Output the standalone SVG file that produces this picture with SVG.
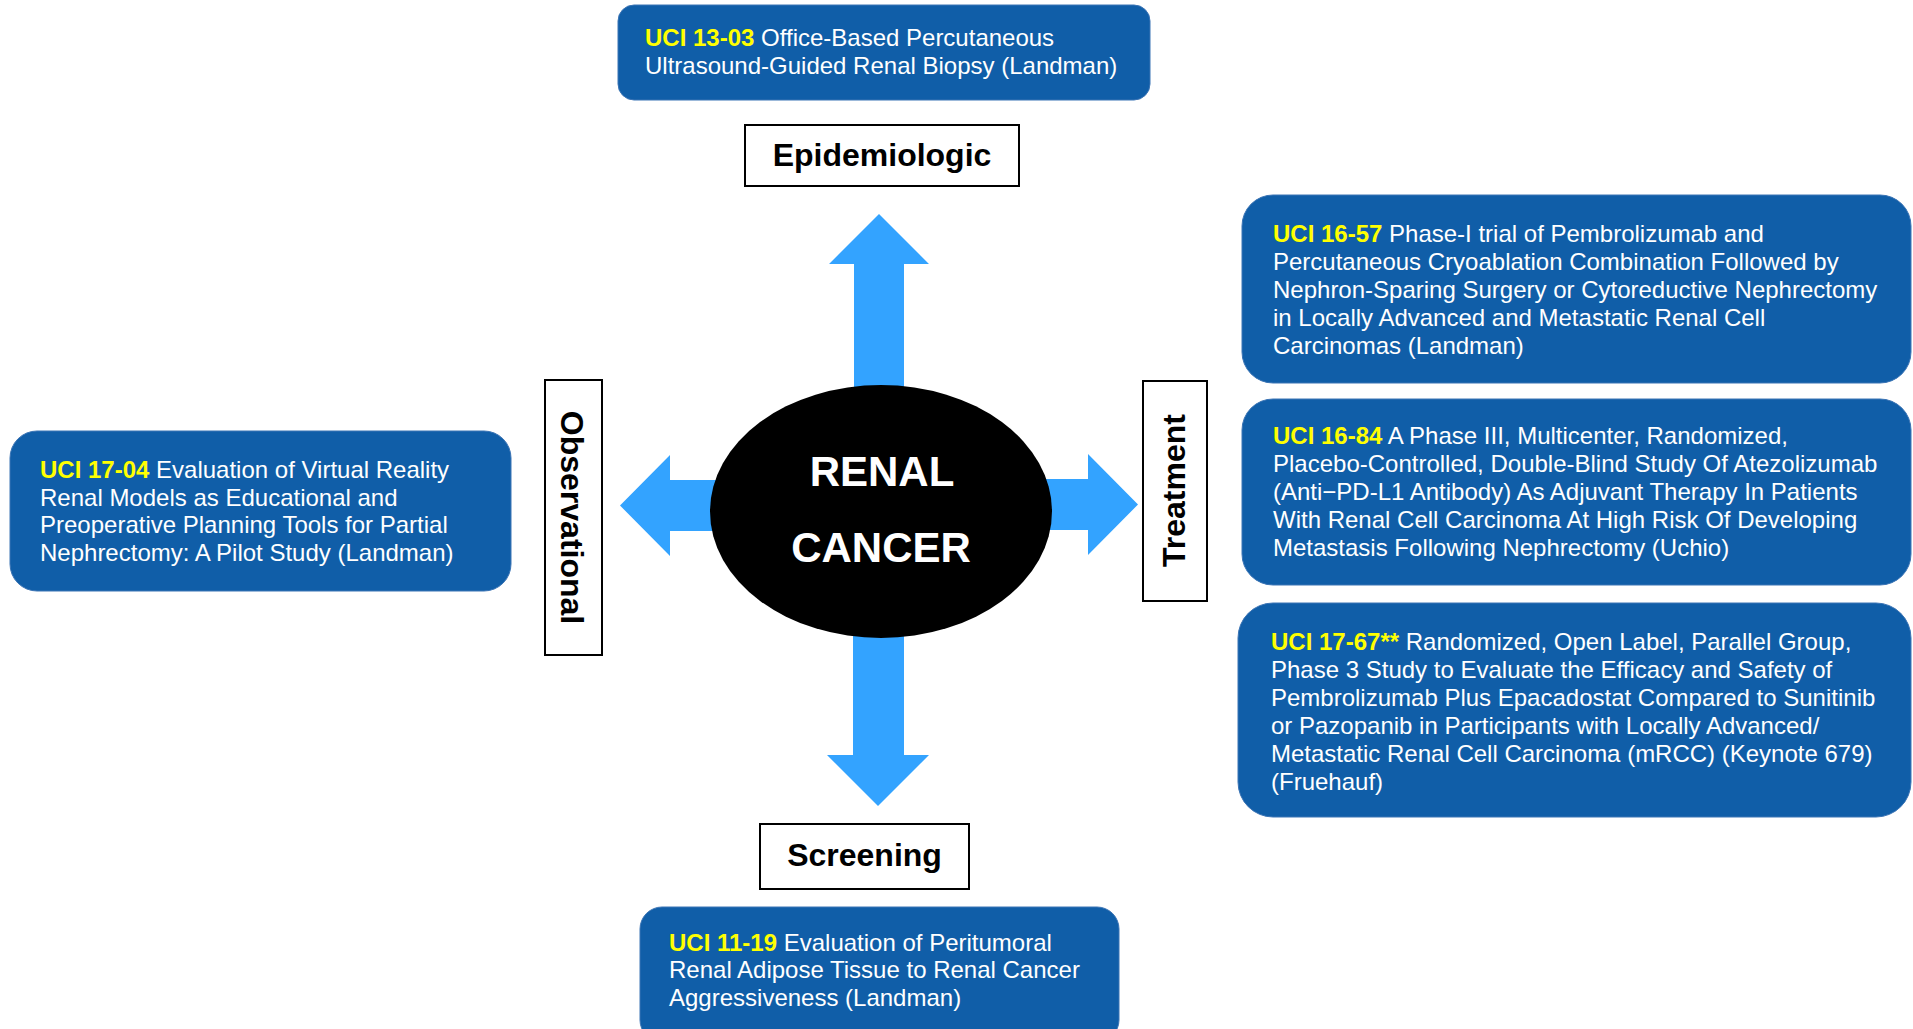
<svg xmlns="http://www.w3.org/2000/svg" width="1913" height="1029" viewBox="0 0 1913 1029">
<style>
.box{fill:#105EA8;stroke:#3B74B5;stroke-width:1}
.t{font-family:"Liberation Sans",Arial,sans-serif;font-size:24px;fill:#FFFFFF}
.id{font-weight:bold;fill:#FFFF00}
.lbl{fill:#FFFFFF;stroke:#000000;stroke-width:2}
.lt{font-family:"Liberation Sans",Arial,sans-serif;font-size:32px;font-weight:bold;fill:#000000}
.arrow{fill:#33A3FF}
.center{font-family:"Liberation Sans",Arial,sans-serif;font-size:42px;font-weight:bold;fill:#FFFFFF}
</style>
<rect width="1913" height="1029" fill="#FFFFFF"/>
<g id="connectors">
<polygon class="arrow" points="854,420 854,264 829,264 879,214 929,264 904,264 904,420"/>
<polygon class="arrow" points="853,600 853,755 827,755 878,806 929,755 904,755 904,600"/>
<polygon class="arrow" points="1000,479 1088,479 1088,454 1138,504.5 1088,555 1088,530 1000,530"/>
<polygon class="arrow" points="760,480 670,480 670,455 620,505.5 670,556 670,531 760,531"/>
</g>
<g id="renal-cancer">
<ellipse cx="881" cy="511.5" rx="171" ry="126.5" fill="#000000"/>
<text class="center" x="882" y="486" text-anchor="middle">RENAL</text>
<text class="center" x="881" y="562" text-anchor="middle">CANCER</text>
</g>
<g id="epidemiologic">
<rect class="lbl" x="745" y="125" width="274" height="61"/>
<text class="lt" x="882" y="166" text-anchor="middle">Epidemiologic</text>
</g>
<g id="screening">
<rect class="lbl" x="760" y="824" width="209" height="65"/>
<text class="lt" x="864.5" y="866" text-anchor="middle">Screening</text>
</g>
<g id="observational">
<rect class="lbl" x="545" y="380" width="57" height="275"/>
<text class="lt" transform="translate(561,517.5) rotate(90)" text-anchor="middle">Observational</text>
</g>
<g id="treatment">
<rect class="lbl" x="1143" y="381" width="64" height="220"/>
<text class="lt" transform="translate(1185,490.5) rotate(-90)" text-anchor="middle">Treatment</text>
</g>
<g id="uci-13-03">
<rect class="box" x="618" y="5" width="532" height="95" rx="16" ry="16"/>
<text class="t" x="645" y="46"><tspan class="id">UCI 13-03</tspan> Office-Based Percutaneous</text>
<text class="t" x="645" y="74">Ultrasound-Guided Renal Biopsy (Landman)</text>
</g>
<g id="uci-17-04">
<rect class="box" x="10" y="431" width="501" height="160" rx="27" ry="27"/>
<text class="t" x="40" y="478"><tspan class="id">UCI 17-04</tspan> Evaluation of Virtual Reality</text>
<text class="t" x="40" y="506">Renal Models as Educational and</text>
<text class="t" x="40" y="533">Preoperative Planning Tools for Partial</text>
<text class="t" x="40" y="561">Nephrectomy: A Pilot Study (Landman)</text>
</g>
<g id="uci-16-57">
<rect class="box" x="1242" y="195" width="669" height="188" rx="31" ry="31"/>
<text class="t" x="1273" y="242"><tspan class="id">UCI 16-57</tspan> Phase-I trial of Pembrolizumab and</text>
<text class="t" x="1273" y="270">Percutaneous Cryoablation Combination Followed by</text>
<text class="t" x="1273" y="298">Nephron-Sparing Surgery or Cytoreductive Nephrectomy</text>
<text class="t" x="1273" y="326">in Locally Advanced and Metastatic Renal Cell</text>
<text class="t" x="1273" y="354">Carcinomas (Landman)</text>
</g>
<g id="uci-16-84">
<rect class="box" x="1242" y="399" width="669" height="186" rx="31" ry="31"/>
<text class="t" x="1273" y="444"><tspan class="id">UCI 16-84</tspan> A Phase III, Multicenter, Randomized,</text>
<text class="t" x="1273" y="472">Placebo-Controlled, Double-Blind Study Of Atezolizumab</text>
<text class="t" x="1273" y="500">(Anti−PD-L1 Antibody) As Adjuvant Therapy In Patients</text>
<text class="t" x="1273" y="528">With Renal Cell Carcinoma At High Risk Of Developing</text>
<text class="t" x="1273" y="556">Metastasis Following Nephrectomy (Uchio)</text>
</g>
<g id="uci-17-67">
<rect class="box" x="1238" y="603" width="673" height="214" rx="35" ry="35"/>
<text class="t" x="1271" y="650"><tspan class="id">UCI 17-67**</tspan> Randomized, Open Label, Parallel Group,</text>
<text class="t" x="1271" y="678">Phase 3 Study to Evaluate the Efficacy and Safety of</text>
<text class="t" x="1271" y="706">Pembrolizumab Plus Epacadostat Compared to Sunitinib</text>
<text class="t" x="1271" y="734">or Pazopanib in Participants with Locally Advanced/</text>
<text class="t" x="1271" y="762">Metastatic Renal Cell Carcinoma (mRCC) (Keynote 679)</text>
<text class="t" x="1271" y="790">(Fruehauf)</text>
</g>
<g id="uci-11-19">
<rect class="box" x="640" y="907" width="479" height="135" rx="22" ry="22"/>
<text class="t" x="669" y="951"><tspan class="id">UCI 11-19</tspan> Evaluation of Peritumoral</text>
<text class="t" x="669" y="978">Renal Adipose Tissue to Renal Cancer</text>
<text class="t" x="669" y="1006">Aggressiveness (Landman)</text>
</g>
</svg>
